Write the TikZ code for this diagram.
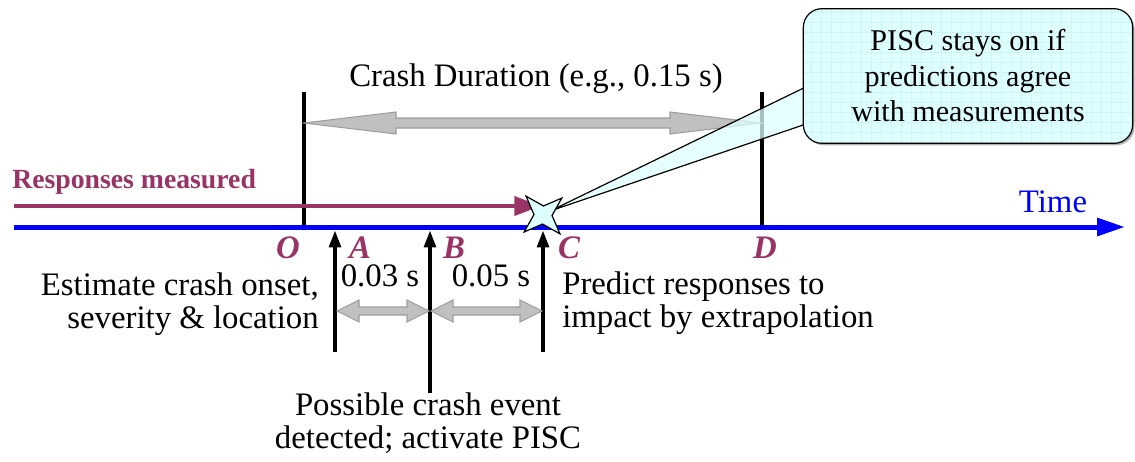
\documentclass[tikz,border=0pt]{standalone}
\usepackage{fontspec}
\setmainfont{Liberation Serif}
\usetikzlibrary{arrows.meta,calc,shapes.geometric,shadows}
\definecolor{plum}{RGB}{153,51,102}
\definecolor{arrgray}{RGB}{192,192,192}
\definecolor{arredge}{RGB}{158,158,158}
\definecolor{callfill}{RGB}{222,255,255}
\definecolor{gridc}{RGB}{208,242,250}
\newcommand\grayDblArrow[5]{%
  \path[draw=arredge, fill=arrgray, line width=0.8pt, line join=miter]
    (#1) -- ($(#1)+(#3,-#4)$) -- ($(#1)+(#3,-#5)$) -- ($(#2)+(-#3,-#5)$)
    -- ($(#2)+(-#3,-#4)$) -- (#2) -- ($(#2)+(-#3,#4)$) -- ($(#2)+(-#3,#5)$)
    -- ($(#1)+(#3,#5)$) -- ($(#1)+(#3,#4)$) -- cycle;}
\begin{document}
\begin{tikzpicture}[x=0.75pt,y=-0.75pt,
  txt/.style={font=\fontsize{24.6}{24.75}\selectfont, inner sep=0pt},
  lbl/.style={font=\fontsize{24.6}{24.75}\selectfont\bfseries\itshape, text=plum, inner sep=0pt, anchor=base},
  vline/.style={line width=3pt},
  uparrow/.style={line width=3.2pt, -{Triangle[width=8.5pt,length=13pt]}},
  timeaxis/.style={blue, line width=3.75pt, -{Triangle[width=13pt,length=21pt]}},
  measured/.style={plum, line width=3.5pt, -{Triangle[width=14pt,length=20pt]}},
  calloutbox/.style={draw=black, line width=0.9pt, fill=callfill, rounded corners=14pt,
    minimum width=247pt, minimum height=101pt, align=center, inner sep=0pt,
    font=\fontsize{22.6}{26.6}\selectfont,
    drop shadow={shadow xshift=1.5pt, shadow yshift=-1.5pt, opacity=0.6},
    path picture={\draw[gridc, line width=0.3pt] (path picture bounding box.south west) grid[step=7.5pt] (path picture bounding box.north east);}},
  starmark/.style={star, star points=4, star point ratio=2.8, minimum size=38pt, inner sep=0pt,
    draw=black, line width=0.9pt, fill=callfill, rotate=42}
]
\useasboundingbox (0,0) rectangle (1135,461);
% coordinates
\coordinate (axL) at (14,227);
\coordinate (axR) at (1125,227);
\coordinate (rmL) at (14,206);
\coordinate (rmR) at (541,206);
\coordinate (Otop) at (304,92);
\coordinate (Obot) at (304,227);
\coordinate (Dtop) at (762,92);
\coordinate (Dbot) at (762,227);
\coordinate (durL) at (304,123);
\coordinate (durR) at (762,123);
\coordinate (Atail) at (335,352);
\coordinate (Atip) at (335,230);
\coordinate (Btail) at (430,393);
\coordinate (Btip) at (430,230);
\coordinate (Ctail) at (543,352);
\coordinate (Ctip) at (543,230);
\coordinate (abL) at (337,311);
\coordinate (abR) at (429,311);
\coordinate (bcL) at (431,311);
\coordinate (bcR) at (542,311);
\coordinate (ptA) at (812,84);
\coordinate (ptB) at (812,122);
\coordinate (tip) at (550,211);
% vertical lines O and D
\draw[vline] (Otop) -- (Obot);
\draw[vline] (Dtop) -- (Dbot);
% crash duration arrow
\grayDblArrow{durL}{durR}{92}{11}{5}
% callout pointer
\fill[callfill, fill opacity=0.75] (ptA) -- (tip) -- (ptB) -- cycle;
\draw[line width=0.9pt] (ptA) -- (tip) -- (ptB);
% callout
\node[calloutbox] (call) at (968,76) {PISC stays on if\\predictions agree\\with measurements};
% time axis
\draw[timeaxis] (axL) -- (axR);
\node[txt, text=blue, anchor=base] (time) at (1053,212) {Time};
% responses measured
\draw[measured] (rmL) -- (rmR);
\node[font=\fontsize{20.8}{22}\selectfont\bfseries, text=plum, inner sep=0pt, anchor=base west] (resp) at (12,188) {Responses measured};
% star
\node[starmark] (starC) at (543,215) {};
% up arrows
\draw[uparrow] (Atail) -- (Atip);
\draw[uparrow] (Btail) -- (Btip);
\draw[uparrow] (Ctail) -- (Ctip);
% small gray arrows
\grayDblArrow{abL}{abR}{22}{11}{4}
\grayDblArrow{bcL}{bcR}{22}{11}{4}
% letters
\node[lbl] (O) at (288,258) {O};
\node[lbl] (A) at (360,258) {A};
\node[lbl] (B) at (454,258) {B};
\node[lbl] (C) at (569,258) {C};
\node[lbl] (D) at (765,258) {D};
% texts
\node[txt, anchor=base] (dur) at (536,86) {Crash Duration (e.g., 0.15 s)};
\node[txt, anchor=base] (t03) at (380,286) {0.03 s};
\node[txt, anchor=base] (t05) at (491,286) {0.05 s};
\node[txt, anchor=base east, align=right] (est) at (319,328) {Estimate crash onset,\\severity \& location};
\node[txt, anchor=base west, align=left] (pred) at (562,327) {Predict responses to\\impact by extrapolation};
\node[txt, anchor=base, align=center] (poss) at (428,448) {Possible crash event\\detected; activate PISC};
\end{tikzpicture}
\end{document}
